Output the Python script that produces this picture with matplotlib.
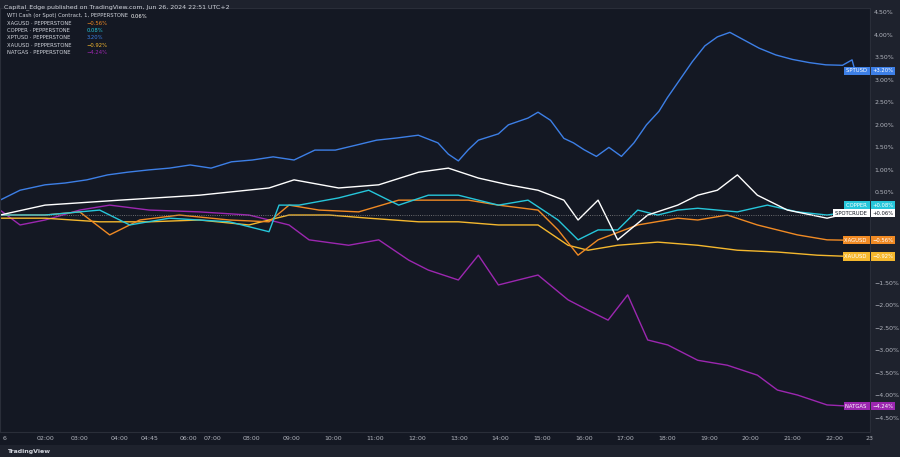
import matplotlib
matplotlib.use("Agg")
import matplotlib.pyplot as plt

# x in session-hour units, y in percent change
spt_x = [2.0,2.48,3.08,3.56,4.08,4.58,5.06,5.56,6.06,6.56,7.06,7.55,8.05,8.55,9.05,9.55,10.04,10.54,11.03,11.53,12.03,12.5,12.75,12.99,13.23,13.47,13.95,14.19,14.66,14.9,15.2,15.52,15.75,16.0,16.3,16.6,16.9,17.2,17.5,17.8,18.0,18.3,18.6,18.9,19.2,19.5,19.8,20.2,20.6,21.0,21.4,21.8,22.2,22.43,22.5]
spt_y = [0.33,0.55,0.67,0.71,0.78,0.89,0.95,1.0,1.04,1.11,1.04,1.18,1.22,1.29,1.22,1.44,1.44,1.55,1.66,1.71,1.77,1.6,1.35,1.2,1.45,1.66,1.8,2.0,2.15,2.28,2.1,1.7,1.6,1.45,1.3,1.5,1.3,1.6,2.0,2.3,2.6,3.0,3.4,3.75,3.95,4.05,3.9,3.7,3.55,3.45,3.38,3.33,3.32,3.44,3.20]

crude_x = [2.0,3.08,4.87,6.78,8.45,9.05,10.12,11.08,12.04,12.75,13.47,14.19,14.9,15.52,15.86,16.34,16.81,17.53,18.25,18.73,19.2,19.68,20.16,20.88,21.83,22.43]
crude_y = [0.0,0.22,0.33,0.44,0.6,0.78,0.6,0.67,0.95,1.04,0.82,0.67,0.55,0.33,-0.11,0.33,-0.55,0.0,0.22,0.44,0.55,0.89,0.44,0.11,-0.07,0.06]

copper_x = [2.0,3.08,4.39,5.11,6.06,7.5,8.45,8.69,9.17,10.12,10.84,11.56,12.27,12.99,13.95,14.66,15.38,15.86,16.34,16.81,17.29,17.77,18.25,18.73,19.68,20.4,21.12,21.83,22.43]
copper_y = [0.0,0.0,0.11,-0.22,-0.07,-0.15,-0.37,0.22,0.22,0.38,0.55,0.22,0.44,0.44,0.22,0.33,-0.11,-0.55,-0.33,-0.33,0.11,0.0,0.11,0.15,0.07,0.22,0.07,0.0,0.08]

xag_x = [2.0,3.08,3.91,4.63,5.35,6.3,7.5,8.45,8.93,9.65,10.6,11.56,12.27,13.23,13.95,14.9,15.38,15.86,16.34,17.29,18.25,18.73,19.44,20.16,21.12,21.83,22.43]
xag_y = [0.0,0.0,0.07,-0.44,-0.11,0.0,-0.11,-0.15,0.22,0.11,0.07,0.33,0.33,0.33,0.22,0.11,-0.33,-0.89,-0.55,-0.22,-0.07,-0.11,0.0,-0.22,-0.44,-0.55,-0.56]

xau_x = [2.0,3.08,4.39,5.58,6.78,7.97,8.93,9.89,10.84,12.04,12.99,13.95,14.9,15.62,16.1,16.81,17.77,18.73,19.68,20.64,21.59,22.43]
xau_y = [-0.07,-0.07,-0.15,-0.15,-0.11,-0.22,0.0,0.0,-0.07,-0.15,-0.15,-0.22,-0.22,-0.67,-0.78,-0.67,-0.6,-0.67,-0.78,-0.82,-0.89,-0.92]

nat_x = [2.0,2.48,3.08,3.91,4.63,5.58,6.78,7.97,8.93,9.41,10.36,11.08,11.8,12.27,12.99,13.47,13.95,14.9,15.62,16.1,16.58,17.05,17.53,18.01,18.73,19.44,20.16,20.64,21.12,21.83,22.43]
nat_y = [0.11,-0.22,-0.11,0.11,0.22,0.11,0.07,0.0,-0.22,-0.55,-0.67,-0.55,-1.0,-1.22,-1.44,-0.89,-1.55,-1.33,-1.88,-2.11,-2.33,-1.77,-2.77,-2.88,-3.22,-3.33,-3.55,-3.88,-3.99,-4.21,-4.24]

series = [
    ("NATGAS", nat_x, nat_y, "#9c27b0", "−4.24%"),
    ("XAUUSD", xau_x, xau_y, "#f5b82e", "−0.92%"),
    ("XAGUSD", xag_x, xag_y, "#f08a24", "−0.56%"),
    ("COPPER", copper_x, copper_y, "#26c6da", "+0.08%"),
    ("SPOTCRUDE", crude_x, crude_y, "#ffffff", "+0.06%"),
    ("SPTUSD", spt_x, spt_y, "#3d7fe6", "+3.20%"),
]

tick_pos = [2.12,3.08,3.91,4.87,5.58,6.52,7.09,8.02,9,10,11,12,13,14,15,16,17,18,19,20,21,22,22.86]
tick_lab = ["6","02:00","03:00","04:00","04:45","06:00","07:00","08:00","09:00","10:00","11:00","12:00",
            "13:00","14:00","15:00","16:00","17:00","18:00","19:00","20:00","21:00","22:00","23"]
yticks = [i*0.5 for i in range(-9, 10) if i not in (-2, -1, 0)]

bg = "#141823"
fig = plt.figure(figsize=(9, 4.57), dpi=100, facecolor="#1e222d")
ax = fig.add_axes([0.0, 1-432/457, 870/900, 424/457], facecolor=bg)
for name, x, y, c, v in series:
    ax.plot(x, y, color=c, lw=1.0)
ax.axhline(0, color="#888888", lw=0.6, ls=":")
ax.set_xlim(2.0, 22.79)
ax.set_ylim(-4.81, 4.59)
ax.yaxis.tick_right()
ax.set_yticks(yticks)
ax.set_yticklabels([("%.2f%%" % t).replace("-", "−") for t in yticks])
ax.set_xticks(tick_pos)
ax.set_xticklabels(tick_lab)
ax.tick_params(colors="#b2b5be", labelsize=4.5, length=0, pad=3)
for s in ax.spines.values():
    s.set_color("#2a2e39")
fig.patches.append(plt.Rectangle((0, 1-445/457), 870/900, 13/457, transform=fig.transFigure,
                                 facecolor=bg, zorder=-1))

# value tags
tagy = {"SPTUSD": 3.20, "COPPER": 0.22, "SPOTCRUDE": 0.04, "XAGUSD": -0.56, "XAUUSD": -0.92, "NATGAS": -4.24}
for name, x, y, c, v in series:
    fc = c if name != "SPOTCRUDE" else "#ffffff"
    tc = "#ffffff" if name != "SPOTCRUDE" else "#131722"
    ax.text(0.998, tagy[name], name + " ", transform=ax.get_yaxis_transform(), ha="right", va="center",
            fontsize=3.8, color=tc, bbox=dict(boxstyle="square,pad=0.3", fc=fc, ec="none"), clip_on=False)
    ax.text(1.003, tagy[name], v, transform=ax.get_yaxis_transform(), ha="left", va="center",
            fontsize=3.8, color=tc, bbox=dict(boxstyle="square,pad=0.3", fc=fc, ec="none"), clip_on=False)

fig.text(0.005, 1-7/457, "Capital_Edge published on TradingView.com, Jun 26, 2024 22:51 UTC+2",
         fontsize=4.5, color="#d1d4dc", va="center")
leg = [("WTI Cash (or Spot) Contract, 1, PEPPERSTONE", "0.06%", "#ffffff"),
       ("XAGUSD · PEPPERSTONE", "−0.56%", "#f08a24"),
       ("COPPER · PEPPERSTONE", "0.08%", "#26c6da"),
       ("XPTUSD · PEPPERSTONE", "3.20%", "#3d7fe6"),
       ("XAUUSD · PEPPERSTONE", "−0.92%", "#f5b82e"),
       ("NATGAS · PEPPERSTONE", "−4.24%", "#9c27b0")]
for i, (t, v, c) in enumerate(leg):
    yy = 1 - (16 + i*7.3)/457
    fig.text(0.008, yy, t, fontsize=3.8, color="#d1d4dc", va="center")
    fig.text(0.008 + (0.137 if i == 0 else 0.088), yy, v, fontsize=3.8, color=c, va="center")
fig.text(0.008, 1-451/457, "TradingView", fontsize=4.5, color="#d1d4dc", va="center", weight="bold")
fig.savefig("out.png", dpi=100, facecolor=fig.get_facecolor())
